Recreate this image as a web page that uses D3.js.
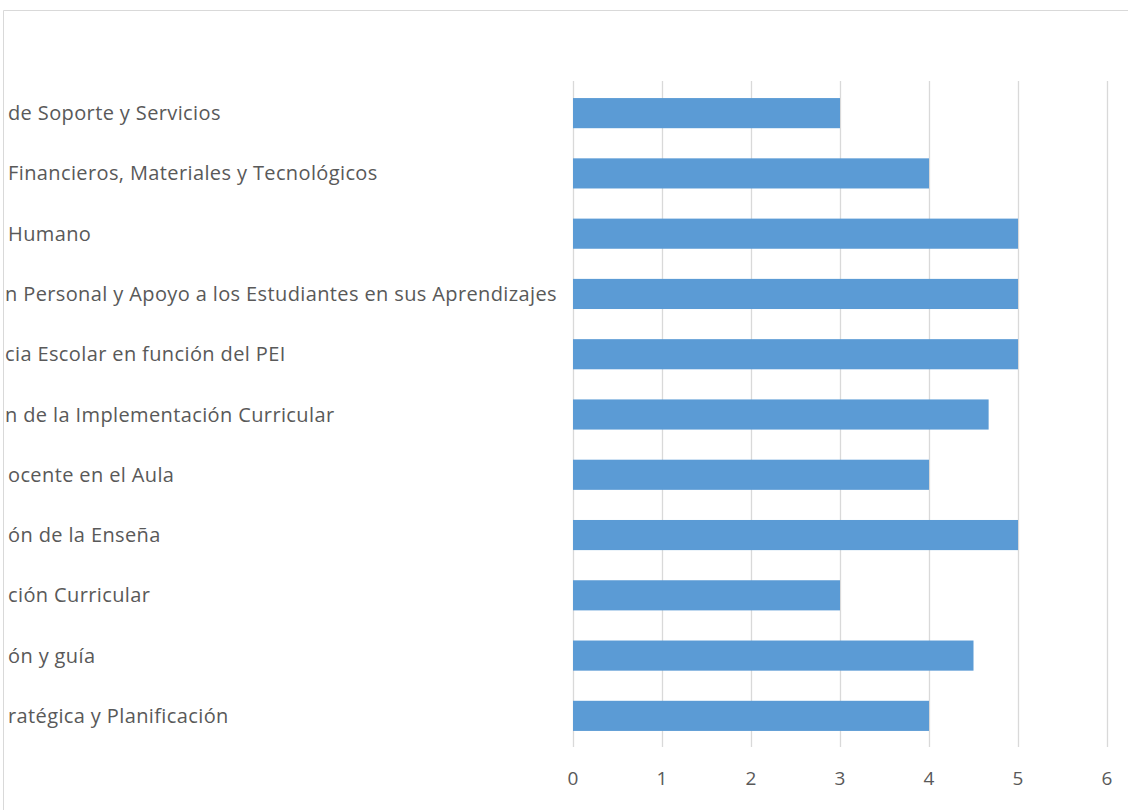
<!DOCTYPE html>
<html>
<head>
<meta charset="utf-8">
<script src="https://cdn.jsdelivr.net/npm/d3@7"></script>
<style>
  body { margin: 0; background: #fff; }
  svg { display: block; }
</style>
</head>
<body>
<svg id="chart" width="1128" height="810"></svg>
<script>
// category labels as visible in the (left-cropped) picture, top to bottom
const categories = [
  "de Soporte y Servicios",
  "Financieros, Materiales y Tecnológicos",
  "Humano",
  "n Personal y Apoyo a los Estudiantes en sus Aprendizajes",
  "cia Escolar en función del PEI",
  "n de la Implementación Curricular",
  "ocente en el Aula",
  "ón de la Enseña",
  "ción Curricular",
  "ón y guía",
  "ratégica y Planificación"
];
const values = [3, 4, 5, 5, 5, 4.67, 4, 5, 3, 4.5, 4];
const xTicks = [0, 1, 2, 3, 4, 5, 6];

const svg = d3.select("#chart");
const width = +svg.attr("width");
const height = +svg.attr("height");

const x = d3.scaleLinear().domain([0, 6]).range([573, 1107]);
const y = d3.scaleBand()
  .domain(categories)
  .range([83, 746])
  .paddingInner(0.5)
  .paddingOuter(0.25);

// chart area border (top + left only visible)
svg.append("path")
  .attr("d", `M3.5,${height} L3.5,10.5 L${width},10.5`)
  .attr("fill", "none")
  .attr("stroke", "#d9d9d9")
  .attr("stroke-width", 1);

// gridlines
svg.append("g")
  .selectAll("line")
  .data(xTicks)
  .join("line")
  .attr("x1", (d) => Math.round(x(d)) + 0.5)
  .attr("x2", (d) => Math.round(x(d)) + 0.5)
  .attr("y1", 81)
  .attr("y2", 747)
  .attr("stroke", "#d9d9d9")
  .attr("stroke-width", 1.3);

// bars
svg.append("g")
  .selectAll("rect")
  .data(categories)
  .join("rect")
  .attr("x", x(0))
  .attr("y", (d) => y(d))
  .attr("width", (d, i) => x(values[i]) - x(0))
  .attr("height", y.bandwidth())
  .attr("fill", "#5b9bd5");

// category labels, left side (cropped in the source, so they start at the border)
svg.append("g")
  .selectAll("text")
  .data(categories)
  .join("text")
  .attr("x", (d, i) => (i === 3 || i === 4 || i === 5 ? 5 : 8))
  .attr("y", (d) => y(d) + y.bandwidth() / 2)
  .attr("dy", "0.35em")
  .attr("text-anchor", "start")
  .attr("font-family", "'Open Sans', sans-serif")
  .attr("font-size", 20)
  .attr("letter-spacing", 0.38)
  .attr("fill", "#595959")
  .text((d) => d);

// x tick labels
svg.append("g")
  .selectAll("text")
  .data(xTicks)
  .join("text")
  .attr("x", (d) => x(d))
  .attr("y", 778)
  .attr("dy", "0.35em")
  .attr("text-anchor", "middle")
  .attr("font-family", "'Open Sans', sans-serif")
  .attr("font-size", 19)
  .attr("fill", "#595959")
  .text((d) => d);
</script>
</body>
</html>
